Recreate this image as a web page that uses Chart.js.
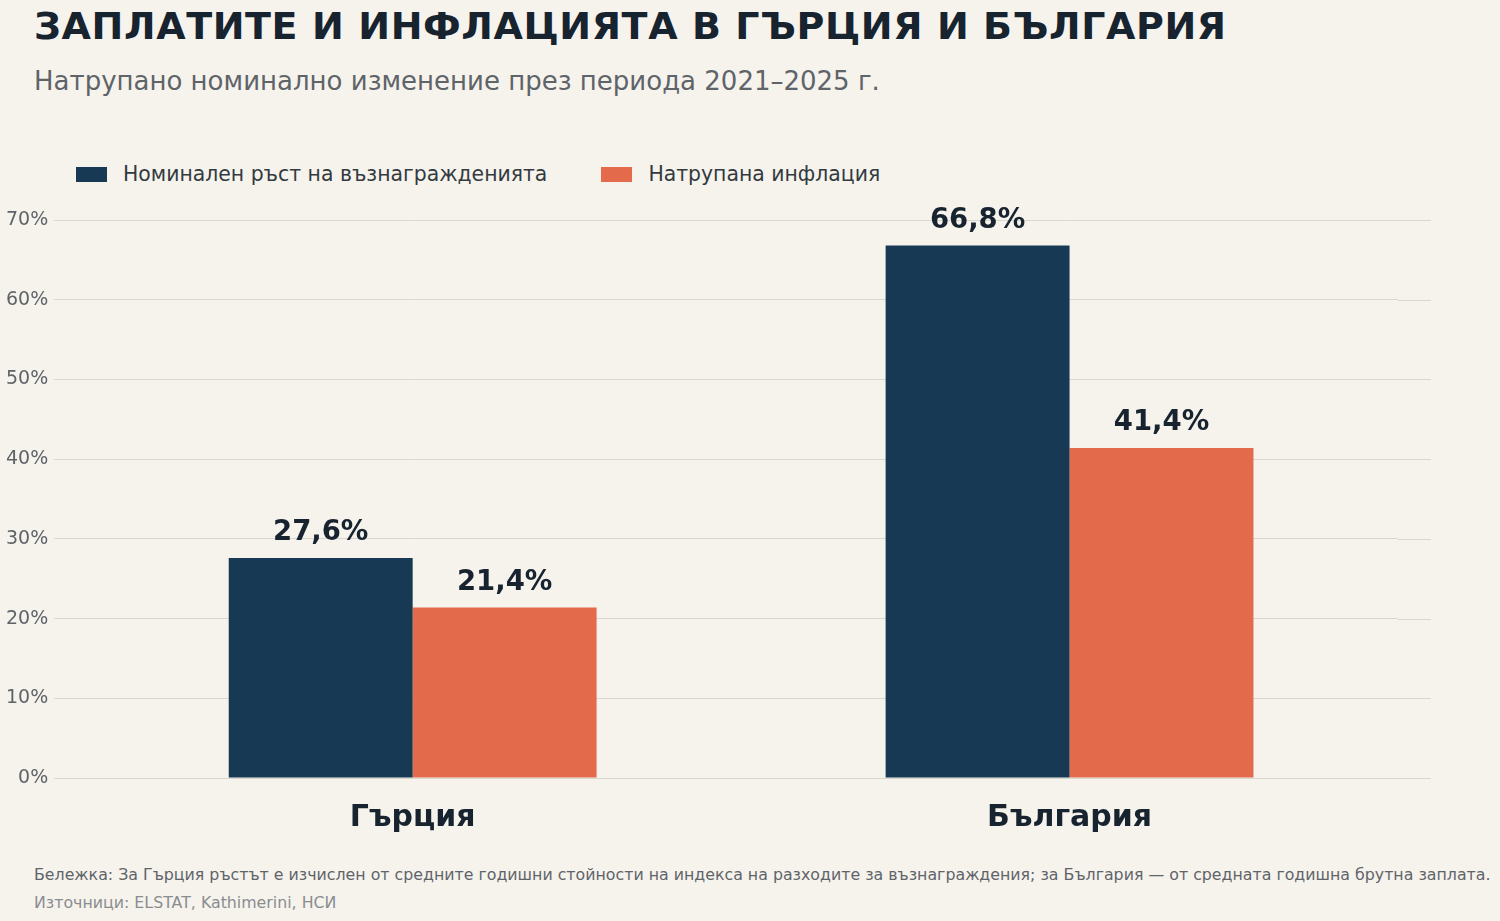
<!DOCTYPE html>
<html><head><meta charset="utf-8">
<script src="https://cdn.jsdelivr.net/npm/chart.js@4"></script>
<style>
body{margin:0;background:#f6f3ed;font-family:"DejaVu Sans",sans-serif;width:1500px;height:921px;position:relative;overflow:hidden}
.t{position:absolute;left:34px;white-space:nowrap}
#title{top:4px;font-size:38px;font-weight:bold;color:#17232f;letter-spacing:0.6px}
#sub{top:66px;font-size:26px;color:#5f6469}
#leg{position:absolute;top:162px;left:76px;font-size:20.4px;color:#333a40;display:flex}
#leg span{display:inline-flex;align-items:center;margin-right:54px}
#leg i{display:inline-block;width:31px;height:15px;margin-right:16px}
#note{top:865px;font-size:15.8px;color:#5f6469}
#src{top:893px;font-size:15.8px;color:#8a8d90}
#wrap{position:absolute;left:0;top:190px;width:1500px;height:660px}
</style></head><body>
<div class="t" id="title">ЗАПЛАТИТЕ И ИНФЛАЦИЯТА В ГЪРЦИЯ И БЪЛГАРИЯ</div>
<div class="t" id="sub">Натрупано номинално изменение през периода 2021–2025 г.</div>
<div id="leg"><span><i style="background:#183954"></i>Номинален ръст на възнагражденията</span><span><i style="background:#e36b4c"></i>Натрупана инфлация</span></div>
<div id="wrap"><canvas id="myChart"></canvas></div>
<div class="t" id="note">Бележка: За Гърция ръстът е изчислен от средните годишни стойности на индекса на разходите за възнаграждения; за България — от средната годишна брутна заплата.</div>
<div class="t" id="src">Източници: ELSTAT, Kathimerini, НСИ</div>
<script>
const categories = ['Гърция', 'България'];
const wageGrowth = [27.6, 66.8];
const inflation = [21.4, 41.4];
const seriesNames = ['Номинален ръст на възнагражденията', 'Натрупана инфлация'];

const GRID_COLOR = '#d9d6cf';
const GRID_RIGHT = 1431;

// value labels above bars
const valueLabels = {
    id: 'valueLabels',
    afterDatasetsDraw(chart) {
        const ctx = chart.ctx;
        ctx.save();
        ctx.font = 'bold 27.5px "DejaVu Sans"';
        ctx.fillStyle = '#17232f';
        ctx.textAlign = 'center';
        ctx.textBaseline = 'bottom';
        chart.data.datasets.forEach((ds, i) => {
            chart.getDatasetMeta(i).data.forEach((bar, j) => {
                ctx.fillText(ds.data[j].toFixed(1).replace('.', ',') + '%', bar.x, bar.y - 11);
            });
        });
        ctx.restore();
    }
};

// gridlines run a bit past the chart area on the right
const gridExtend = {
    id: 'gridExtend',
    beforeDatasetsDraw(chart) {
        const ctx = chart.ctx, y = chart.scales.y;
        ctx.save();
        ctx.strokeStyle = GRID_COLOR;
        ctx.lineWidth = 1;
        y.ticks.forEach(t => {
            const py = Math.round(y.getPixelForValue(t.value)) + 0.5;
            ctx.beginPath();
            ctx.moveTo(chart.chartArea.right, py);
            ctx.lineTo(GRID_RIGHT, py);
            ctx.stroke();
        });
        ctx.restore();
    }
};

new Chart(document.getElementById('myChart'), {
    type: 'bar',
    data: {
        labels: categories,
        datasets: [
            {label: seriesNames[0], data: wageGrowth, backgroundColor: '#183954'},
            {label: seriesNames[1], data: inflation, backgroundColor: '#e36b4c'}
        ]
    },
    options: {
        responsive: true,
        maintainAspectRatio: false,
        animation: false,
        categoryPercentage: 0.56,
        barPercentage: 1,
        layout: {padding: {top: 30, right: 102, left: 0, bottom: 0}},
        scales: {
            y: {
                min: 0, max: 70,
                ticks: {stepSize: 10, callback: v => v + '%', color: '#5f6469', font: {size: 19, family: 'DejaVu Sans'}, padding: 6},
                grid: {color: GRID_COLOR, drawTicks: true, tickLength: 30},
                border: {display: false}
            },
            x: {
                ticks: {color: '#17232f', font: {size: 30, weight: 'bold', family: 'DejaVu Sans'}, padding: 14},
                grid: {display: false},
                border: {display: false}
            }
        },
        plugins: {legend: {display: false}, tooltip: {enabled: false}}
    },
    plugins: [gridExtend, valueLabels]
});
</script>
</body></html>
